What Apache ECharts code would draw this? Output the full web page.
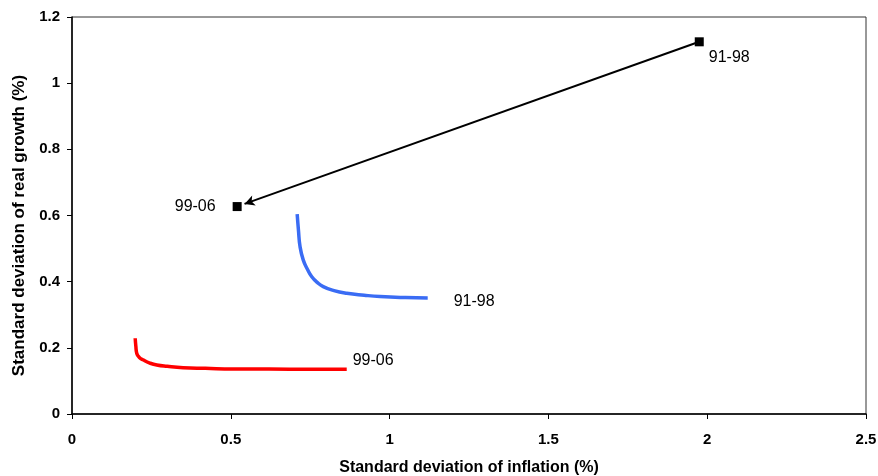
<!DOCTYPE html>
<html>
<head>
<meta charset="utf-8">
<script src="https://cdn.jsdelivr.net/npm/echarts@6/dist/echarts.min.js"></script>
<style>
  html, body { margin: 0; padding: 0; background: #fff; }
  #chart { width: 878px; height: 476px; }
</style>
</head>
<body>
<div id="chart"></div>
<script>
// black points: period, std of inflation, std of real growth
const pointNames = ['91-98', '99-06']
const pointX = [1.975, 0.52]
const pointY = [1.125, 0.627]

// blue curve (91-98)
const blueX = [0.709, 0.713, 0.718, 0.728, 0.742, 0.755, 0.772, 0.791, 0.825, 0.865, 0.92, 0.97, 1.05, 1.12]
const blueY = [0.604, 0.556, 0.506, 0.466, 0.436, 0.415, 0.398, 0.385, 0.373, 0.365, 0.359, 0.355, 0.352, 0.351]

// red curve (99-06)
const redX = [0.199, 0.201, 0.204, 0.212, 0.225, 0.245, 0.267, 0.30, 0.35, 0.42, 0.508, 0.62, 0.75, 0.865]
const redY = [0.229, 0.205, 0.183, 0.171, 0.163, 0.154, 0.148, 0.144, 0.140, 0.138, 0.136, 0.136, 0.135, 0.135]

const xTicks = { min: 0, max: 2.5, interval: 0.5 }
const yTicks = { min: 0, max: 1.2, interval: 0.2 }

const FONT = 'Liberation Sans, Arial'
const zip = (xs, ys) => xs.map((x, i) => [x, ys[i]])

// arrow from first point to second, stopping short of the marker
const shorten = 0.016
const arrowEnd = [
  pointX[1] + (pointX[0] - pointX[1]) * shorten,
  pointY[1] + (pointY[0] - pointY[1]) * shorten
]

const chart = echarts.init(document.getElementById('chart'))
chart.setOption({
  animation: false,
  textStyle: { fontFamily: FONT },
  grid: {
    left: 72, right: 12, top: 17, bottom: 62,
    containLabel: false, outerBoundsMode: 'none',
    show: true, borderColor: '#333', borderWidth: 1
  },
  xAxis: {
    type: 'value', min: xTicks.min, max: xTicks.max, interval: xTicks.interval,
    name: 'Standard deviation of inflation (%)', nameLocation: 'middle', nameGap: 46,
    nameTextStyle: { fontWeight: 'bold', fontSize: 16, color: '#000' },
    axisLine: { lineStyle: { color: '#000', width: 1.5 } },
    axisTick: { show: true, inside: false, length: 5, lineStyle: { color: '#000' } },
    axisLabel: { fontWeight: 'bold', fontSize: 15, color: '#000', margin: 18 },
    splitLine: { show: false }
  },
  yAxis: {
    type: 'value', min: yTicks.min, max: yTicks.max, interval: yTicks.interval,
    name: 'Standard deviation of real growth (%)', nameLocation: 'middle', nameGap: 42,
    nameTextStyle: { fontWeight: 'bold', fontSize: 17, color: '#000', padding: [0, 20, 0, 0] },
    axisLine: { show: true, lineStyle: { color: '#000', width: 1.5 } },
    axisTick: { show: true, inside: false, length: 5, lineStyle: { color: '#000' } },
    axisLabel: { fontWeight: 'bold', fontSize: 15, color: '#000', margin: 12 },
    splitLine: { show: false }
  },
  series: [
    {
      type: 'line', data: zip(blueX, blueY), smooth: true,
      showSymbol: false, symbol: 'none',
      lineStyle: { color: '#3a6cf4', width: 3.5 },
      endLabel: { show: true, formatter: '91-98', distance: 26, offset: [0, 4], color: '#000', fontSize: 16, fontFamily: FONT }
    },
    {
      type: 'line', data: zip(redX, redY), smooth: true,
      showSymbol: false, symbol: 'none',
      lineStyle: { color: '#ff0000', width: 3.5 },
      endLabel: { show: true, formatter: '99-06', distance: 6, offset: [0, -9], color: '#000', fontSize: 16, fontFamily: FONT }
    },
    {
      type: 'scatter', symbol: 'rect', symbolSize: 9,
      itemStyle: { color: '#000', opacity: 1 },
      data: pointX.map((x, i) => ({
        value: [x, pointY[i]],
        label: i === 0
          ? { show: true, position: 'right', offset: [0, 16], formatter: pointNames[i], color: '#000', fontSize: 16 }
          : { show: true, position: 'left', offset: [-12, 0], formatter: pointNames[i], color: '#000', fontSize: 16 }
      })),
      markLine: {
        silent: true, symbol: ['none', 'arrow'], symbolSize: [8, 10],
        label: { show: false },
        lineStyle: { color: '#000', width: 2, type: 'solid', opacity: 1 },
        data: [[{ coord: [pointX[0], pointY[0]] }, { coord: arrowEnd }]]
      }
    }
  ]
})
</script>
</body>
</html>
